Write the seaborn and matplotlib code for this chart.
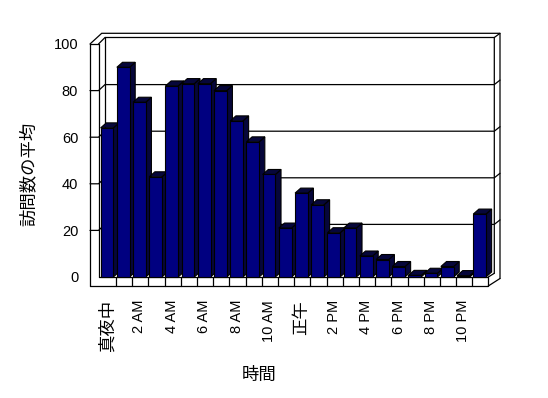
import matplotlib
matplotlib.use("Agg")
import matplotlib.pyplot as plt
import matplotlib.transforms as mtransforms
from matplotlib.patches import Polygon
from matplotlib.lines import Line2D
import seaborn as sns
import pandas as pd

# ---------------- data ----------------
hours = ["真夜中", "1 AM", "2 AM", "3 AM", "4 AM", "5 AM", "6 AM", "7 AM",
         "8 AM", "9 AM", "10 AM", "11 AM", "正午", "1 PM", "2 PM", "3 PM",
         "4 PM", "5 PM", "6 PM", "7 PM", "8 PM", "9 PM", "10 PM", "11 PM"]
visits = [64, 90, 75, 43, 82, 83, 83, 80, 67, 58, 44, 21,
          36, 31, 19, 21, 9, 7.5, 4.5, 0.7, 1.6, 4.5, 0.6, 27]
shown_ticks = ["真夜中", "2 AM", "4 AM", "6 AM", "8 AM", "10 AM",
               "正午", "2 PM", "4 PM", "6 PM", "8 PM", "10 PM"]
y_ticks = [0, 20, 40, 60, 80, 100]
x_title = "時間"
y_title = "訪問数の平均"

# ---------------- style ----------------
sns.set_theme(style="white")
plt.rcParams['font.family'] = ['Liberation Sans', 'Noto Sans CJK JP']

W, H = 548, 398
fig = plt.figure(figsize=(W / 100, H / 100), dpi=100)
fig.patch.set_facecolor("white")
# pixel transform (origin top-left)
px = mtransforms.Affine2D().scale(0.01, -0.01).translate(0, H / 100) + fig.dpi_scale_trans

ax = fig.add_axes([90 / W, (H - 286) / H, 410 / W, 253 / H])
df = pd.DataFrame({"hour": hours, "visits": visits})
sns.barplot(data=df, x="hour", y="visits", order=hours, color="#000080",
            saturation=1, width=0.784, edgecolor="black", linewidth=0.8,
            errorbar=None, ax=ax)
ax.set_xlim(-1.049, 24.259)
ax.set_ylim(-3.863, 104.72)
for s in ax.spines.values():
    s.set_visible(False)
ax.patch.set_visible(False)
ax.grid(False)
ax.set_xlabel("")
ax.set_ylabel("")

# 3D faces of bars
DX, DY = 0.35, 2.15
side_col = "#06063a"
for i, p in enumerate(list(ax.patches)):
    x0, w, h = p.get_x(), p.get_width(), p.get_height()
    z = 3 + i * 0.01
    p.set_zorder(z + 0.005)
    side = Polygon([(x0 + w, 0), (x0 + w + DX, DY), (x0 + w + DX, h + DY), (x0 + w, h)],
                   closed=True, facecolor=side_col, edgecolor="black", lw=0.8, zorder=z)
    top = Polygon([(x0, h), (x0 + DX, h + DY), (x0 + w + DX, h + DY), (x0 + w, h)],
                  closed=True, facecolor=side_col, edgecolor="black", lw=0.8, zorder=z)
    ax.add_patch(side)
    ax.add_patch(top)

# ticks
ax.set_xticks(range(0, 24, 2))
ax.set_xticklabels(shown_ticks, rotation=90)
ax.tick_params(axis="x", length=0, pad=10, labelsize=10.5, colors="black")
ax.set_yticks(y_ticks)
ax.tick_params(axis="y", length=0, pad=8.5, labelsize=10.5, colors="black")
for lab in ax.get_xticklabels():
    if any(ord(c) > 0x3000 for c in lab.get_text()):
        lab.set_fontsize(12.5)

# ---------------- 3D frame ----------------
fig.canvas.draw()


def ypx(v):
    return H - ax.transData.transform((0, v))[1]


def xpx(c):
    return ax.transData.transform((c, 0))[0]


def seg(pts, z=1):
    ax.add_line(Line2D([q[0] for q in pts], [q[1] for q in pts], transform=px,
                       color="black", lw=0.9, zorder=z, clip_on=False,
                       solid_joinstyle="miter"))


LX0, LX1, BX0, BX1, RX = 90, 98.5, 105, 494.3, 500
y0, y100 = ypx(0), ypx(100)
FB = y0 + 9          # floor front bottom
OFF = 6              # back wall vertical offset
# left wall slab
seg([(LX0, y100), (LX0, FB)])
seg([(LX1, y100), (LX1, y0)])
seg([(LX0, y100), (LX1, y100)])
seg([(LX0, y100), (101.7, y100 - 10.7), (RX, y100 - 10.7), (RX, y0 + 1.5)])
seg([(LX1, y100), (BX0, y100 - OFF - 0.5), (BX1, y100 - OFF - 0.5), (BX1, y0 - 3.7)])
seg([(BX1, y100 - OFF - 0.5), (RX, y100 - 10.7)])
seg([(BX0, y100 - OFF - 0.5), (BX0, y0 - OFF)])
# gridlines
for v in y_ticks[1:-1]:
    y = ypx(v)
    seg([(LX0, y), (LX1, y), (BX0, y - OFF), (BX1, y - OFF), (RX, y - OFF - 4.5)])
# floor
seg([(LX1, y0), (488.3, y0), (488.3, FB), (LX0, FB)])
seg([(488.3, FB), (RX, y0 + 1.5)])
seg([(488.3, y0), (BX1, y0 - 3.7)])
for k in range(23):
    xk = xpx(k + 0.55)
    seg([(xk, y0), (xk, FB)])

# titles
fig.text(259, 375, x_title, transform=px, ha="center", va="center",
         fontsize=12.5, color="black")
fig.text(28, 174, y_title, transform=px, ha="center", va="center",
         rotation=90, fontsize=12.5, color="black")

fig.savefig("out.png", dpi=100, facecolor="white")
